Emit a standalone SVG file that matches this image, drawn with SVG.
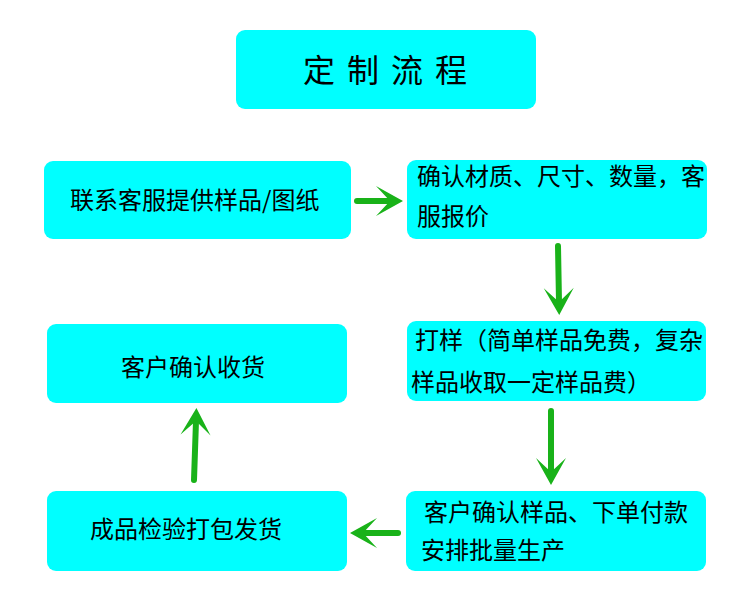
<svg xmlns="http://www.w3.org/2000/svg" width="750" height="600" viewBox="0 0 750 600">
<defs>
<style>
.box{fill:#00FFFF;}
.t{font-family:"Noto Sans CJK SC","Liberation Sans",sans-serif;font-size:24px;fill:#000;}
.title{font-family:"Noto Sans CJK SC","Liberation Sans",sans-serif;font-size:32px;fill:#000;letter-spacing:12px;}
.arr{stroke:#19B219;stroke-width:6;stroke-linecap:round;fill:none;}
</style>
<marker id="ah" markerUnits="userSpaceOnUse" markerWidth="40" markerHeight="40" refX="0" refY="0" orient="auto" overflow="visible" viewBox="-20 -20 40 40">
<path d="M13,0 L-14,-15 L0,0 L-14,15 Z" fill="#19B219"/>
</marker>
</defs>
<rect width="750" height="600" fill="#FFFFFF"/>
<g id="title">
<rect class="box" x="236" y="30" width="300" height="79" rx="9"/>
<text class="title" x="303" y="82">定制流程</text>
</g>
<g id="n1">
<rect class="box" x="44" y="161" width="307" height="78" rx="9"/>
<text class="t" x="70" y="209">联系客服提供样品/图纸</text>
</g>
<g id="n2">
<rect class="box" x="407" y="160" width="300" height="79" rx="9"/>
<text class="t" x="417" y="185">确认材质、尺寸、数量，客</text>
<text class="t" x="417" y="225">服报价</text>
</g>
<g id="n3">
<rect class="box" x="407" y="321" width="299" height="80" rx="9"/>
<text class="t" x="415" y="349">打样（简单样品免费，复杂</text>
<text class="t" x="411" y="391">样品收取一定样品费）</text>
</g>
<g id="n4">
<rect class="box" x="406" y="491" width="300" height="80" rx="9"/>
<text class="t" x="424" y="521">客户确认样品、下单付款</text>
<text class="t" x="421" y="559">安排批量生产</text>
</g>
<g id="n5">
<rect class="box" x="47" y="491" width="300" height="80" rx="9"/>
<text class="t" x="90" y="538">成品检验打包发货</text>
</g>
<g id="n6">
<rect class="box" x="47" y="324" width="300" height="79" rx="9"/>
<text class="t" x="121" y="376">客户确认收货</text>
</g>
<g id="connectors">
<line class="arr" x1="357" y1="201" x2="390" y2="201" marker-end="url(#ah)"/>
<line class="arr" x1="558" y1="246" x2="559" y2="302" marker-end="url(#ah)"/>
<line class="arr" x1="551" y1="411" x2="551" y2="472" marker-end="url(#ah)"/>
<line class="arr" x1="398" y1="533" x2="363" y2="533" marker-end="url(#ah)"/>
<line class="arr" x1="194" y1="480" x2="196" y2="421" marker-end="url(#ah)"/>
</g>
</svg>
